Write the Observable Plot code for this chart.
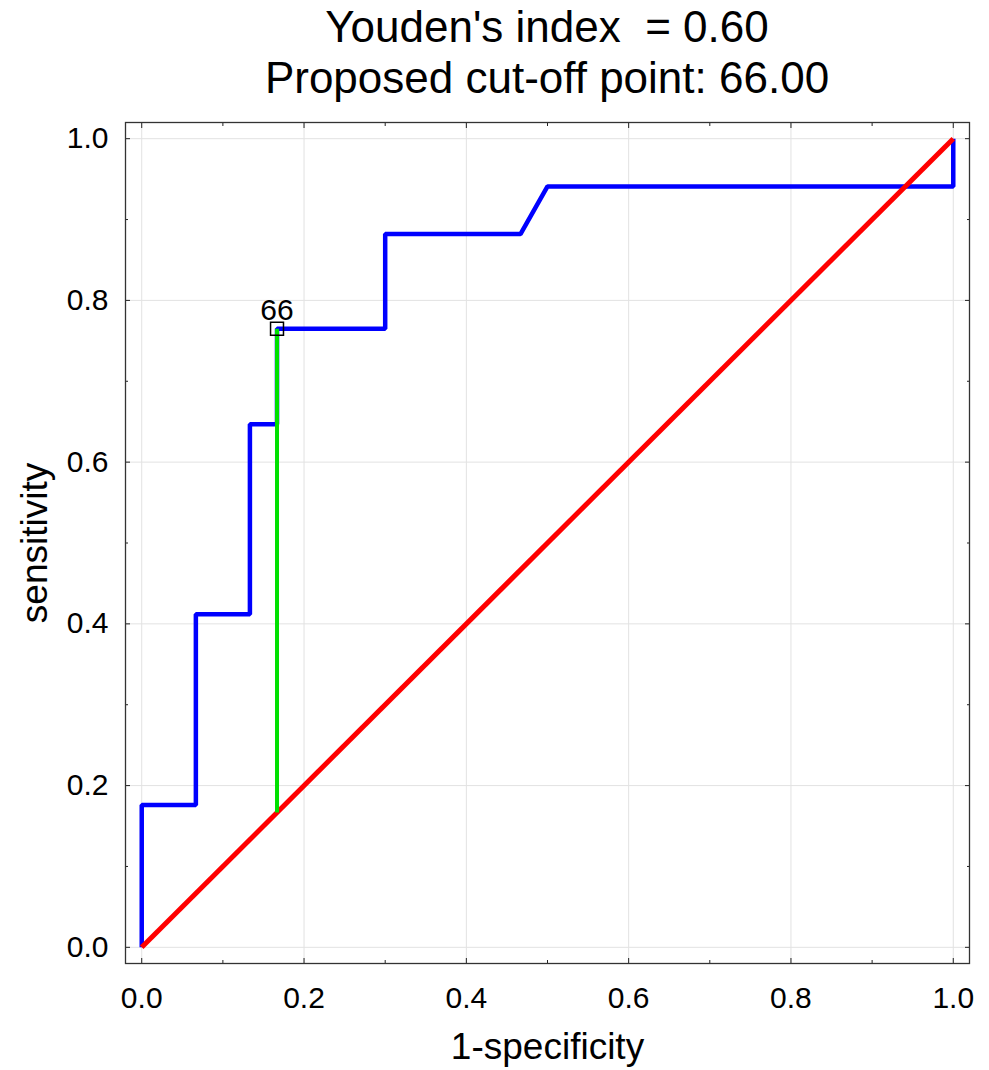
<!DOCTYPE html>
<html><head><meta charset="utf-8">
<script src="https://cdn.jsdelivr.net/npm/d3@7"></script>
<script src="https://cdn.jsdelivr.net/npm/@observablehq/plot@0.6"></script>
<style>
body{margin:0;background:#fff;font-family:"Liberation Sans",Arial,sans-serif;}
#title{box-sizing:border-box;width:989px;padding:1px 20px 0 125px;height:102px;text-align:center;font-size:44px;line-height:51px;white-space:pre;color:#000;}
#chart svg{display:block;overflow:visible;}
</style></head><body>
<div id="title"></div>
<div id="chart"></div>
<script>
// ---- data ----
const titleLines = ["Youden's index  = 0.60", "Proposed cut-off point: 66.00"];
const xLabel = "1-specificity";
const yLabel = "sensitivity";
const fpr = [0, 0, 0.0667, 0.0667, 0.1333, 0.1333, 0.1667, 0.1667, 0.3, 0.3, 0.4667, 0.5, 1.0, 1.0];
const tpr = [0, 0.176, 0.176, 0.412, 0.412, 0.647, 0.647, 0.765, 0.765, 0.882, 0.882, 0.941, 0.941, 1.0];
const diagX = [0, 1];
const diagY = [0, 1];
const cutoffFpr = 0.1667;
const cutoffTpr = 0.765;
const cutoffLabel = "66";
const majorTicks = [0, 0.2, 0.4, 0.6, 0.8, 1.0];
const minorTicks = [0.1, 0.3, 0.5, 0.7, 0.9];
const tickLabels = ["0.0", "0.2", "0.4", "0.6", "0.8", "1.0"];

// ---- build ----
const t = document.getElementById("title");
titleLines.forEach(s => { const d = document.createElement("div"); d.textContent = s; t.appendChild(d); });

const roc = fpr.map((x, i) => ({x, y: tpr[i]}));
const diag = diagX.map((x, i) => ({x, y: diagY[i]}));
const youden = [{x: cutoffFpr, y: cutoffFpr}, {x: cutoffFpr, y: cutoffTpr}];
const cut = [{x: cutoffFpr, y: cutoffTpr, label: cutoffLabel}];
const fmt = d => tickLabels[majorTicks.indexOf(d)];
const domain = [-0.02, 1.02];
const empty = () => "";
const gridStyle = {stroke: "#e2e2e2", strokeOpacity: 1, strokeWidth: 1};
const lineStyle = {strokeLinejoin: "miter", strokeLinecap: "butt", curve: "linear"};

const inward = (ticks, size) => [
  Plot.axisX(ticks, {anchor: "bottom", tickSize: size, dy: -size, tickFormat: empty, label: null, stroke: "#222"}),
  Plot.axisX(ticks, {anchor: "top", tickSize: size, dy: size, tickFormat: empty, label: null, stroke: "#222"}),
  Plot.axisY(ticks, {anchor: "left", tickSize: size, dx: size, tickFormat: empty, label: null, stroke: "#222"}),
  Plot.axisY(ticks, {anchor: "right", tickSize: size, dx: -size, tickFormat: empty, label: null, stroke: "#222"})
];

const chart = Plot.plot({
  width: 989,
  height: 968,
  marginLeft: 125,
  marginRight: 20,
  marginTop: 20,
  marginBottom: 107,
  style: {fontFamily: '"Liberation Sans", Arial, sans-serif', fontSize: "30px", background: "white", color: "black"},
  x: {domain, label: null},
  y: {domain, label: null},
  marks: [
    Plot.gridX(majorTicks, gridStyle),
    Plot.gridY(majorTicks, gridStyle),
    ...inward(majorTicks, 5),
    ...inward(minorTicks, 3),
    Plot.axisX(majorTicks, {anchor: "bottom", tickSize: 0, tickPadding: 23, tickFormat: fmt, fontSize: 30, label: null}),
    Plot.axisY(majorTicks, {anchor: "left", tickSize: 0, tickPadding: 17, tickFormat: fmt, fontSize: 30, label: null}),
    Plot.frame({stroke: "#333", strokeWidth: 1.3}),
    Plot.line(roc, {x: "x", y: "y", stroke: "#0000ff", strokeWidth: 4.5, ...lineStyle}),
    Plot.line(diag, {x: "x", y: "y", stroke: "#ff0000", strokeWidth: 5, ...lineStyle}),
    Plot.line(youden, {x: "x", y: "y", stroke: "#00e000", strokeWidth: 4, ...lineStyle}),
    Plot.dot(cut, {x: "x", y: "y", symbol: "square", r: 7.3, stroke: "black", strokeWidth: 1.5, fill: "none"}),
    Plot.text(cut, {x: "x", y: "y", text: "label", dy: -18, fontSize: 30, fill: "black"}),
    Plot.text([xLabel], {frameAnchor: "bottom", dy: 84, fontSize: 37, textAnchor: "middle", lineAnchor: "middle", text: d => d, fill: "black"}),
    Plot.text([yLabel], {frameAnchor: "left", dx: -90, rotate: -90, fontSize: 37, textAnchor: "middle", lineAnchor: "middle", text: d => d, fill: "black"})
  ]
});
document.getElementById("chart").appendChild(chart);
</script>
</body></html>
